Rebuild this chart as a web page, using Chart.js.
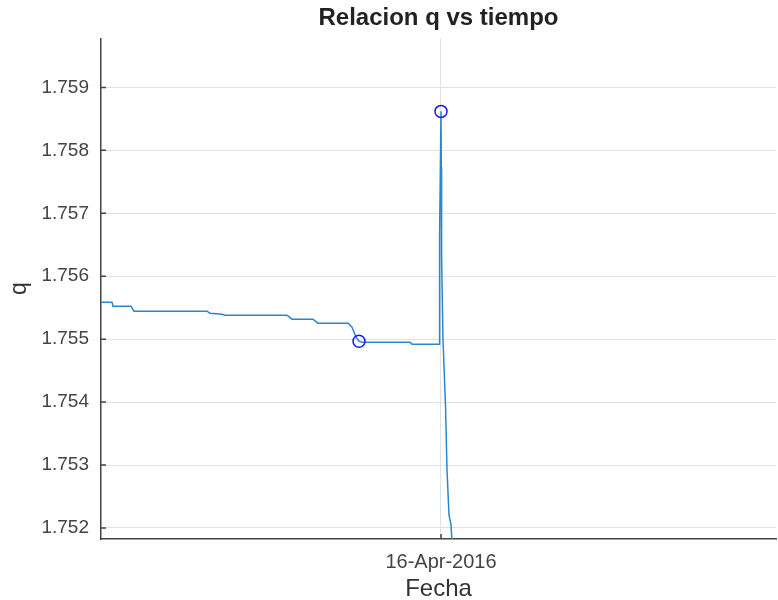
<!DOCTYPE html>
<html>
<head>
<meta charset="utf-8">
<script src="https://cdn.jsdelivr.net/npm/chart.js@4"></script>
<style>
  html, body { margin: 0; padding: 0; background: #fff; }
  #grafico { display: block; }
</style>
</head>
<body>
<canvas id="grafico" width="778" height="600"></canvas>
<script>
// Serie q en el tiempo (horas respecto al 16-Apr-2016 00:00)
const horas = [-68, -65.8, -65.6, -62, -61.4, -46.8, -46.2, -43.8, -43.2, -30.8, -29.8,
    -25.6, -24.6, -18.6, -17.8, -17, -16.4, -15.8, -6.2, -5.8, -0.4, -0.28, 0, 0.06,
    0.12, 0.4, 0.9, 1.2, 1.6, 2, 2.4];
const valoresQ = [1.755587, 1.755587, 1.755524, 1.755524, 1.755444, 1.755444, 1.755413,
    1.755397, 1.755381, 1.755381, 1.755317, 1.755317, 1.755254, 1.755254, 1.755190,
    1.755032, 1.754968, 1.754952, 1.754952, 1.754921, 1.754921, 1.756651, 1.758619,
    1.757730, 1.756302, 1.754984, 1.753952, 1.752921, 1.752206, 1.752048, 1.751492];

// Puntos marcados (mínimo y máximo)
const marcaHoras = [-16.4, 0];
const marcaQ = [1.754968, 1.758619];

// Ejes
const ticksY = [1.752, 1.753, 1.754, 1.755, 1.756, 1.757, 1.758, 1.759];
const ticksX = [0];
const etiquetasX = ['16-Apr-2016'];

const fuente = "'Liberation Sans', Arial, sans-serif";

// Marcas de los ticks hacia adentro, como en MATLAB
const ticksAdentro = {
    id: 'ticksAdentro',
    afterDraw(chart) {
        const ctx = chart.ctx;
        const x = chart.scales.x, y = chart.scales.y;
        ctx.save();
        ctx.strokeStyle = '#444';
        ctx.lineWidth = 1.5;
        ctx.beginPath();
        ticksY.forEach(v => {
            const py = y.getPixelForValue(v);
            ctx.moveTo(x.left, py);
            ctx.lineTo(x.left + 5, py);
        });
        ticksX.forEach(v => {
            const px = x.getPixelForValue(v);
            ctx.moveTo(px, y.bottom);
            ctx.lineTo(px, y.bottom - 5);
        });
        ctx.stroke();
        ctx.restore();
    }
};

new Chart(document.getElementById('grafico'), {
    type: 'scatter',
    data: {
        datasets: [
            {
                data: horas.map((h, i) => ({ x: h, y: valoresQ[i] })),
                showLine: true,
                borderColor: '#2b86d0',
                borderWidth: 1.5,
                pointRadius: 0,
                tension: 0,
                order: 2
            },
            {
                data: marcaHoras.map((h, i) => ({ x: h, y: marcaQ[i] })),
                showLine: false,
                pointStyle: 'circle',
                pointRadius: 6,
                borderColor: '#1a1aff',
                backgroundColor: 'rgba(0,0,0,0)',
                borderWidth: 1.5,
                order: 1
            }
        ]
    },
    options: {
        responsive: false,
        animation: false,
        layout: { autoPadding: false, padding: { left: 0, right: 2, top: 0, bottom: 0 } },
        plugins: {
            legend: { display: false },
            tooltip: { enabled: false },
            title: {
                display: true,
                fullSize: false,
                text: 'Relacion q vs tiempo',
                color: '#222',
                font: { family: fuente, size: 24, weight: 'bold' },
                padding: { top: 4, bottom: 5.5 }
            }
        },
        scales: {
            x: {
                type: 'linear',
                min: -68,
                max: 67,
                afterBuildTicks: s => { s.ticks = ticksX.map(v => ({ value: v })); },
                afterFit: s => { s.height = 61; },
                ticks: {
                    color: '#444',
                    font: { family: fuente, size: 20 },
                    padding: 11,
                    maxRotation: 0,
                    callback: v => etiquetasX[ticksX.indexOf(v)]
                },
                grid: { color: '#e2e2e2', drawTicks: false },
                border: { color: '#444', width: 1.5 },
                title: {
                    display: true,
                    text: 'Fecha',
                    color: '#333',
                    font: { family: fuente, size: 24 },
                    padding: { top: 0, bottom: -4 }
                }
            },
            y: {
                min: 1.751825,
                max: 1.75978,
                afterBuildTicks: s => { s.ticks = ticksY.map(v => ({ value: v })); },
                afterFit: s => { s.width = 101; },
                ticks: {
                    color: '#444',
                    font: { family: fuente, size: 19 },
                    padding: 12,
                    callback: v => v.toFixed(3)
                },
                grid: { color: '#e2e2e2', drawTicks: false },
                border: { color: '#444', width: 1.5 },
                title: {
                    display: true,
                    text: 'q',
                    color: '#333',
                    font: { family: fuente, size: 23 },
                    padding: { top: 6, bottom: 0 }
                }
            }
        }
    },
    plugins: [ticksAdentro]
});
</script>
</body>
</html>
